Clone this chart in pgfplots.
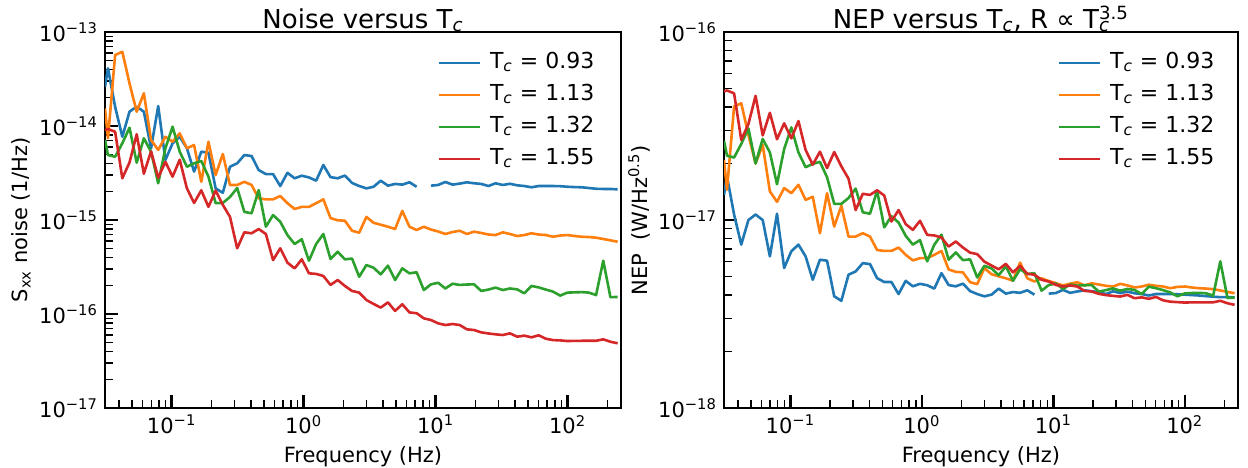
\documentclass[border=0pt]{standalone}
\usepackage{fontspec}
\setmainfont{DejaVu Sans}
\usepackage{pgfplots}
\usepackage{pgfplotstable}
\pgfplotsset{compat=1.18}
\definecolor{cA}{HTML}{1F77B4}
\definecolor{cB}{HTML}{FF7F0E}
\definecolor{cC}{HTML}{2CA02C}
\definecolor{cD}{HTML}{D62728}

\pgfplotstableread{
f Sb So Sg Sr Nb No Ng Nr
0.03125 2.62e-14 1.54e-14 7.10e-15 9.06e-15 1.36e-17 2.09e-17 2.64e-17 4.83e-17
0.03292 4.11e-14 7.40e-15 4.91e-15 9.29e-15 1.71e-17 1.45e-17 2.20e-17 4.89e-17
0.03730 1.60e-14 5.69e-14 4.71e-15 8.69e-15 1.07e-17 4.02e-17 2.15e-17 4.72e-17
0.04228 7.69e-15 6.17e-14 6.55e-15 2.78e-15 7.40e-18 4.18e-17 2.54e-17 2.67e-17
0.04792 1.42e-14 2.84e-14 9.59e-15 4.09e-15 1.00e-17 2.84e-17 3.07e-17 3.24e-17
0.05433 1.61e-14 1.42e-14 4.07e-15 8.17e-15 1.07e-17 2.00e-17 2.00e-17 4.58e-17
0.06157 1.42e-14 2.23e-14 7.40e-15 3.11e-15 1.00e-17 2.51e-17 2.70e-17 2.82e-17
0.06979 5.79e-15 7.10e-15 5.33e-15 5.38e-15 6.41e-18 1.42e-17 2.29e-17 3.72e-17
0.07909 1.63e-14 5.56e-15 2.46e-15 2.82e-15 1.08e-17 1.25e-17 1.55e-17 2.69e-17
0.08964 4.35e-15 7.69e-15 5.79e-15 4.16e-15 5.56e-18 1.48e-17 2.39e-17 3.27e-17
0.1016 6.55e-15 6.81e-15 9.84e-15 2.89e-15 6.82e-18 1.39e-17 3.11e-17 2.72e-17
0.1151 7.69e-15 8.36e-15 5.33e-15 4.38e-15 7.40e-18 1.54e-17 2.29e-17 3.36e-17
0.1305 5.79e-15 5.79e-15 3.69e-15 2.17e-15 6.41e-18 1.28e-17 1.91e-17 2.36e-17
0.1479 3.27e-15 6.28e-15 4.01e-15 1.52e-15 4.81e-18 1.33e-17 1.99e-17 1.97e-17
0.1677 5.33e-15 2.55e-15 4.25e-15 2.07e-15 6.15e-18 8.51e-18 2.04e-17 2.31e-17
0.1900 5.20e-15 6.81e-15 2.89e-15 1.38e-15 6.08e-18 1.39e-17 1.69e-17 1.89e-17
0.2154 2.17e-15 3.01e-15 1.51e-15 2.06e-15 3.93e-18 9.23e-18 1.22e-17 2.30e-17
0.2441 1.95e-15 5.04e-15 1.52e-15 1.45e-15 3.72e-18 1.19e-17 1.22e-17 1.93e-17
0.2767 3.69e-15 2.36e-15 1.76e-15 1.08e-15 5.12e-18 8.17e-18 1.31e-17 1.66e-17
0.3136 4.01e-15 2.36e-15 2.19e-15 5.00e-16 5.33e-18 8.17e-18 1.47e-17 1.13e-17
0.3554 4.91e-15 2.55e-15 1.22e-15 7.40e-16 5.90e-18 8.51e-18 1.10e-17 1.38e-17
0.4029 4.80e-15 2.36e-15 1.18e-15 7.23e-16 5.83e-18 8.17e-18 1.08e-17 1.36e-17
0.4566 3.40e-15 1.70e-15 2.08e-15 8.02e-16 4.91e-18 6.93e-18 1.43e-17 1.44e-17
0.5176 3.08e-15 1.66e-15 8.49e-16 7.10e-16 4.68e-18 6.85e-18 9.14e-18 1.35e-17
0.5866 3.08e-15 1.66e-15 1.13e-15 3.75e-16 4.68e-18 6.85e-18 1.05e-17 9.82e-18
0.6649 2.30e-15 1.80e-15 9.59e-16 5.00e-16 4.04e-18 7.14e-18 9.70e-18 1.13e-17
0.7536 3.18e-15 1.51e-15 6.92e-16 3.52e-16 4.75e-18 6.53e-18 8.24e-18 9.51e-18
0.8541 2.78e-15 1.31e-15 5.56e-16 3.06e-16 4.44e-18 6.10e-18 7.40e-18 8.87e-18
0.9681 2.96e-15 1.38e-15 6.24e-16 3.82e-16 4.58e-18 6.27e-18 7.83e-18 9.91e-18
1.097 2.84e-15 1.38e-15 3.69e-16 2.71e-16 4.50e-18 6.27e-18 6.03e-18 8.34e-18
1.244 2.62e-15 1.51e-15 5.56e-16 2.67e-16 4.32e-18 6.53e-18 7.40e-18 8.28e-18
1.410 3.85e-15 1.66e-15 7.10e-16 2.54e-16 5.22e-18 6.85e-18 8.36e-18 8.07e-18
1.598 2.86e-15 1.05e-15 3.85e-16 2.04e-16 4.51e-18 5.46e-18 6.15e-18 7.23e-18
1.811 2.78e-15 9.93e-16 4.60e-16 2.30e-16 4.44e-18 5.30e-18 6.73e-18 7.69e-18
2.053 2.97e-15 9.84e-16 3.82e-16 1.99e-16 4.59e-18 5.27e-18 6.12e-18 7.14e-18
2.327 2.48e-15 7.69e-16 3.89e-16 1.76e-16 4.19e-18 4.67e-18 6.18e-18 6.71e-18
2.636 2.30e-15 7.33e-16 2.49e-16 1.69e-16 4.04e-18 4.56e-18 4.95e-18 6.59e-18
2.988 2.17e-15 1.08e-15 3.32e-16 1.41e-16 3.93e-18 5.55e-18 5.71e-18 6.01e-18
3.387 2.26e-15 9.35e-16 3.11e-16 1.28e-16 4.01e-18 5.15e-18 5.53e-18 5.73e-18
3.839 2.62e-15 8.91e-16 2.64e-16 1.17e-16 4.32e-18 5.02e-18 5.09e-18 5.47e-18
4.351 2.32e-15 8.49e-16 3.27e-16 1.33e-16 4.06e-18 4.90e-18 5.67e-18 5.85e-18
4.932 2.42e-15 8.02e-16 2.30e-16 1.08e-16 4.14e-18 4.76e-18 4.75e-18 5.27e-18
5.590 2.38e-15 1.25e-15 3.06e-16 1.27e-16 4.10e-18 5.94e-18 5.48e-18 5.71e-18
6.336 2.52e-15 8.49e-16 2.71e-16 1.04e-16 4.23e-18 4.90e-18 5.16e-18 5.18e-18
7.181 2.26e-15 7.83e-16 2.78e-16 1.02e-16 4.01e-18 4.71e-18 5.22e-18 5.12e-18
8.139 nan 8.49e-16 1.80e-16 9.00e-17 nan 4.90e-18 4.21e-18 4.81e-18
9.224 2.32e-15 7.92e-16 2.07e-16 8.63e-17 4.06e-18 4.74e-18 4.51e-18 4.71e-18
10.45 2.36e-15 7.55e-16 2.15e-16 7.96e-17 4.09e-18 4.62e-18 4.60e-18 4.52e-18
11.85 2.54e-15 7.10e-16 1.87e-16 7.64e-17 4.25e-18 4.49e-18 4.30e-18 4.43e-18
13.43 2.38e-15 7.45e-16 2.10e-16 7.83e-17 4.10e-18 4.59e-18 4.54e-18 4.49e-18
15.22 2.44e-15 7.69e-16 2.04e-16 7.64e-17 4.17e-18 4.67e-18 4.48e-18 4.43e-18
17.26 2.52e-15 7.10e-16 2.06e-16 6.87e-17 4.23e-18 4.49e-18 4.50e-18 4.20e-18
19.56 2.46e-15 7.52e-16 2.07e-16 6.76e-17 4.18e-18 4.61e-18 4.51e-18 4.17e-18
22.17 2.42e-15 7.28e-16 1.76e-16 6.38e-17 4.14e-18 4.54e-18 4.16e-18 4.05e-18
25.13 2.30e-15 7.01e-16 1.82e-16 6.21e-17 4.04e-18 4.47e-18 4.24e-18 3.99e-18
28.48 2.46e-15 6.92e-16 1.91e-16 6.08e-17 4.18e-18 4.43e-18 4.33e-18 3.95e-18
32.28 2.36e-15 7.40e-16 1.80e-16 5.98e-17 4.09e-18 4.58e-18 4.21e-18 3.92e-18
36.59 2.43e-15 7.10e-16 1.87e-16 6.23e-17 4.16e-18 4.49e-18 4.30e-18 4.00e-18
41.47 2.34e-15 6.76e-16 1.83e-16 5.74e-17 4.08e-18 4.38e-18 4.25e-18 3.84e-18
46.99 2.30e-15 6.92e-16 1.66e-16 5.89e-17 4.04e-18 4.43e-18 4.04e-18 3.88e-18
53.27 2.23e-15 7.23e-16 1.99e-16 5.65e-17 3.97e-18 4.53e-18 4.42e-18 3.81e-18
60.38 2.30e-15 7.01e-16 1.92e-16 5.94e-17 4.04e-18 4.47e-18 4.34e-18 3.90e-18
68.43 2.30e-15 6.92e-16 1.82e-16 5.46e-17 4.04e-18 4.43e-18 4.24e-18 3.74e-18
77.56 2.30e-15 6.64e-16 1.73e-16 5.28e-17 4.04e-18 4.34e-18 4.12e-18 3.68e-18
87.90 2.29e-15 6.84e-16 1.57e-16 5.24e-17 4.03e-18 4.41e-18 3.93e-18 3.66e-18
99.63 2.26e-15 6.92e-16 1.69e-16 5.16e-17 4.01e-18 4.43e-18 4.07e-18 3.64e-18
112.9 2.24e-15 6.76e-16 1.70e-16 5.18e-17 3.99e-18 4.38e-18 4.09e-18 3.65e-18
128.0 2.23e-15 6.64e-16 1.71e-16 5.19e-17 3.97e-18 4.34e-18 4.10e-18 3.65e-18
145.0 2.19e-15 6.59e-16 1.69e-16 5.19e-17 3.94e-18 4.32e-18 4.08e-18 3.65e-18
164.4 2.15e-15 6.49e-16 1.59e-16 5.19e-17 3.91e-18 4.29e-18 3.96e-18 3.65e-18
186.3 2.14e-15 6.28e-16 3.69e-16 5.38e-17 3.89e-18 4.22e-18 6.03e-18 3.72e-18
211.2 2.14e-15 6.08e-16 1.51e-16 5.07e-17 3.89e-18 4.15e-18 3.85e-18 3.61e-18
239.4 2.12e-15 5.87e-16 1.52e-16 4.88e-17 3.88e-18 4.08e-18 3.87e-18 3.54e-18
}\noisedata

\pgfplotsset{
  legend image code/.code={\draw[#1, line width=1.3pt] (0pt,0pt) -- (20.5pt,0pt);},
  scale only axis, height=188pt,
  xmin=0.03125, xmax=254,
  axis line style={line width=1.2pt, black},
  tick align=inside, xtick pos=left, ytick pos=left,
  major tick length=6.5pt, minor tick length=4pt,
  major tick style={line width=1.2pt, black},
  minor tick style={line width=0.7pt, black},
  xtick={0.1,1,10,100},
  xticklabels={10\textsuperscript{−1},10\textsuperscript{0},10\textsuperscript{1},10\textsuperscript{2}},
  minor xtick={0.04,0.05,0.06,0.07,0.08,0.09,0.2,0.3,0.4,0.5,0.6,0.7,0.8,0.9,2,3,4,5,6,7,8,9,20,30,40,50,60,70,80,90,200},
  tick label style={font=\fontsize{10.5}{12}\selectfont},
  label style={font=\fontsize{10.5}{12}\selectfont},
  every axis title shift=0pt,
  title style={font=\fontsize{13}{15}\selectfont, at={(axis description cs:0.5,1)}, anchor=base, yshift=2pt},
  xlabel style={at={(axis description cs:0.5,0)}, anchor=base, yshift=-27pt},
  unbounded coords=jump,
  legend cell align=left,
  legend style={draw=none, fill=none, inner sep=0pt, row sep=1.5pt, column sep=3pt,
    font=\fontsize{11}{13}\selectfont,
    nodes={inner sep=1.5pt, text height=8.5pt, text depth=3pt}},
  every axis plot/.append style={line width=1.3pt, line join=round},
}

\begin{document}
\begin{tikzpicture}
\begin{loglogaxis}[at={(52.5pt,29.5pt)}, anchor=south west, width=258pt,
  ymin=1e-17, ymax=1e-13,
  ytick={1e-17,1e-16,1e-15,1e-14,1e-13},
  yticklabels={10\textsuperscript{−17},10\textsuperscript{−16},10\textsuperscript{−15},10\textsuperscript{−14},10\textsuperscript{−13}},
  minor ytick={2e-17,3e-17,4e-17,5e-17,6e-17,7e-17,8e-17,9e-17,2e-16,3e-16,4e-16,5e-16,6e-16,7e-16,8e-16,9e-16,2e-15,3e-15,4e-15,5e-15,6e-15,7e-15,8e-15,9e-15,2e-14,3e-14,4e-14,5e-14,6e-14,7e-14,8e-14,9e-14},
  title={Noise versus T\textsubscript{\textit{c}}},
  xlabel={Frequency (Hz)},
  ylabel={S\textsubscript{xx} noise (1/Hz)},
  ylabel style={at={(axis description cs:-0.163,0.5)}, anchor=center},
  legend style={at={(axis description cs:0.6434,0.957)}, anchor=north west},
]
\addplot[cA] table[x=f, y=Sb] {\noisedata};
\addlegendentry{T\textsubscript{\textit{c}} = 0.93}
\addplot[cB] table[x=f, y=So] {\noisedata};
\addlegendentry{T\textsubscript{\textit{c}} = 1.13}
\addplot[cC] table[x=f, y=Sg] {\noisedata};
\addlegendentry{T\textsubscript{\textit{c}} = 1.32}
\addplot[cD] table[x=f, y=Sr] {\noisedata};
\addlegendentry{T\textsubscript{\textit{c}} = 1.55}
\end{loglogaxis}

\begin{loglogaxis}[at={(362pt,29.5pt)}, anchor=south west, width=257pt,
  ymin=1e-18, ymax=1e-16,
  ytick={1e-18,1e-17,1e-16},
  yticklabels={10\textsuperscript{−18},10\textsuperscript{−17},10\textsuperscript{−16}},
  minor ytick={2e-18,3e-18,4e-18,5e-18,6e-18,7e-18,8e-18,9e-18,2e-17,3e-17,4e-17,5e-17,6e-17,7e-17,8e-17,9e-17},
  title={NEP versus T\textsubscript{\textit{c}}, R ∝ T\rlap{\textsubscript{\textit{c}}}\textsuperscript{3.5}},
  xlabel={Frequency (Hz)},
  ylabel={NEP\ \ (W/Hz\textsuperscript{0.5})},
  ylabel style={at={(axis description cs:-0.1654,0.5)}, anchor=center},
  legend style={at={(axis description cs:0.648,0.957)}, anchor=north west},
]
\addplot[cA] table[x=f, y=Nb] {\noisedata};
\addlegendentry{T\textsubscript{\textit{c}} = 0.93}
\addplot[cB] table[x=f, y=No] {\noisedata};
\addlegendentry{T\textsubscript{\textit{c}} = 1.13}
\addplot[cC] table[x=f, y=Ng] {\noisedata};
\addlegendentry{T\textsubscript{\textit{c}} = 1.32}
\addplot[cD] table[x=f, y=Nr] {\noisedata};
\addlegendentry{T\textsubscript{\textit{c}} = 1.55}
\end{loglogaxis}
\pgfresetboundingbox
\useasboundingbox (0,0) rectangle (624pt,233.5pt);
\end{tikzpicture}
\end{document}
